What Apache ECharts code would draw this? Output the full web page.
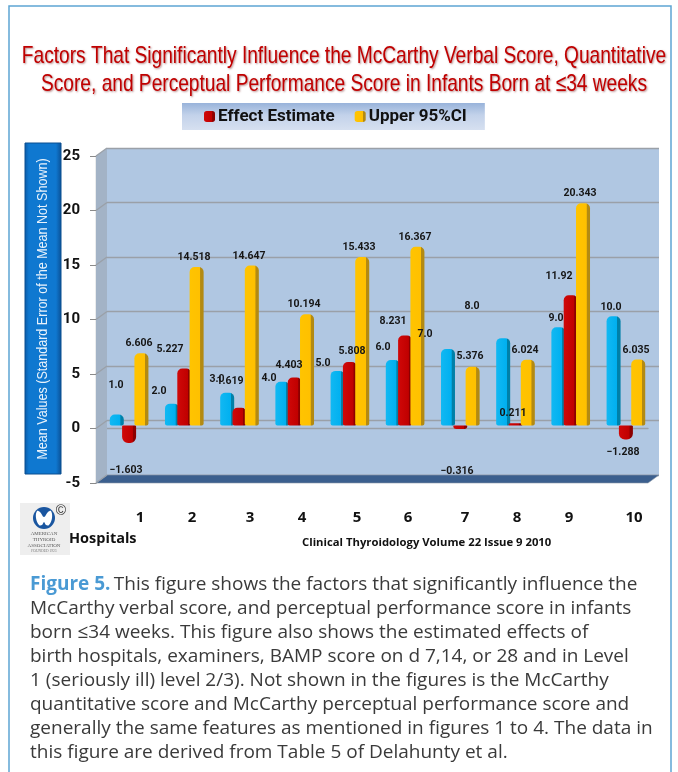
<!DOCTYPE html>
<html><head><meta charset="utf-8">
<style>html,body{margin:0;padding:0;background:#fff}#c{width:678px;height:772px}</style>
<script src="https://cdn.jsdelivr.net/npm/echarts@6/dist/echarts.min.js"></script>
</head><body><div id="c"></div>
<script>
const hospitals = ['1','2','3','4','5','6','7','8','9','10'];
const baseline = [1.0,2.0,3.0,4.0,5.0,6.0,7.0,8.0,9.0,10.0];
const effectEstimate = [-1.603,5.227,1.619,4.403,5.808,8.231,-0.316,0.211,11.92,-1.288];
const upper95 = [6.606,14.518,14.647,10.194,15.433,16.367,5.376,6.024,20.343,6.035];
const baselineLabels = ['1.0','2.0','3.0','4.0','5.0','6.0','7.0','8.0','9.0','10.0'];
const effectLabels = ['\u22121.603','5.227','1.619','4.403','5.808','8.231','\u22120.316','0.211','11.92','\u22121.288'];
const upperLabels = ['6.606','14.518','14.647','10.194','15.433','16.367','5.376','6.024','20.343','6.035'];
const yTicks = [-5,0,5,10,15,20,25];

// label anchor points in the page (the source chart places them by hand)
const baselineLabelAt = [[116,385],[159,391],[217,379],[269,378],[323,363],[383,347],[425,334],[472,306],[556,318],[611,307]];
const effectLabelAt = [[126,470],[170,349],[230,381],[289,365],[352,351],[393,321],[457,471],[513,413],[559,276],[623,452]];
const upperLabelAt = [[139,343],[194,257],[249,256],[304,304],[359,247],[415,237],[470,356],[525,350],[580,193],[636,350]];
const hospitalLabelX = [140,192,250,302,357,408,465,517,569,634];

const titleLines = [
 'Factors That Significantly Influence the McCarthy Verbal Score, Quantitative',
 'Score, and Perceptual Performance Score in Infants Born at \u226434 weeks'
];
const captionLines = [
 'McCarthy verbal score, and perceptual performance score in infants',
 'born \u226434 weeks. This figure also shows the estimated effects of',
 'birth hospitals, examiners, BAMP score on d 7,14, or 28 and in Level',
 '1 (seriously ill) level 2/3). Not shown in the figures is the McCarthy',
 'quantitative score and McCarthy perceptual performance score and',
 'generally the same features as mentioned in figures 1 to 4. The data in',
 'this figure are derived from Table 5 of Delahunty et al.'
];

const NARROW = 'Roboto,"Liberation Sans",sans-serif';
const SANS = '"Liberation Sans",sans-serif';
const cyl = (c0,c1,c2) => ({type:'linear',x:0,y:0,x2:1,y2:0,colorStops:[
  {offset:0,color:c0},{offset:0.74,color:c1},{offset:0.78,color:c2},{offset:1,color:c2}]});

function barSeries(name,data,labels,at,grad){
  return {
    type:'bar',name,xAxisIndex:2,yAxisIndex:2,barWidth:14,barGap:'-12%',
    itemStyle:{color:grad},
    data:data.map(v=>({value:v,itemStyle:{
      color:grad,
      borderRadius: v>=0 ? [5,5,2,2] : [1,1,6,6]
    }})),
    label:{show:true,position:'inside',color:'#161616',fontFamily:NARROW,fontSize:10.5,fontWeight:'bold',
      formatter:p=>labels[p.dataIndex]},
    labelLayout:p=>({x:at[p.dataIndex][0],y:at[p.dataIndex][1],align:'center',verticalAlign:'middle'})
  };
}

const gfx = [];
// frame
gfx.push({type:'polyline',z:1,shape:{points:[[9,772],[9,6],[671,6],[671,772]]},style:{stroke:'#5da5d3',fill:null,lineWidth:1.5}});
// title
titleLines.forEach((t,i)=>gfx.push({type:'text',z:5,x:344,y:56+i*28,scaleX:0.797,style:{text:t,fill:'#c00000',font:'24px '+SANS,align:'center',verticalAlign:'middle',
  textShadowColor:'rgba(90,0,0,0.45)',textShadowBlur:2,textShadowOffsetX:1,textShadowOffsetY:1}}));
// side wall and floor of the 3D box
gfx.push({type:'polygon',z:1,shape:{points:[[96,156],[107,148],[107,475],[96,483]]},style:{fill:'#a3b3c6'}});
gfx.push({type:'polygon',z:1,shape:{points:[[96,483],[107,475],[659,475],[648,483]]},style:{fill:'#3b5f8e',stroke:'#8c99a8',lineWidth:0.6}});
yTicks.forEach((t,i)=>{
  const yf = 483 - i*54.5;
  gfx.push({type:'line',z:2,shape:{x1:96,y1:yf,x2:107,y2:yf-8},style:{stroke:'#9aa0a8',lineWidth:1.2}});
});
// y-axis title box
gfx.push({type:'rect',z:3,shape:{x:25,y:143,width:36,height:331},style:{
  fill:{type:'linear',x:0,y:0,x2:1,y2:0,colorStops:[{offset:0,color:'#0a5aa6'},{offset:0.12,color:'#0f78d0'},{offset:0.85,color:'#0f78d0'},{offset:1,color:'#0a4f94'}]},stroke:'#0b4f90',lineWidth:1}});
gfx.push({type:'text',z:4,x:43,y:309,rotation:Math.PI/2,scaleX:0.81,style:{text:'Mean Values (Standard Error of the Mean Not Shown)',fill:'#e8f2fb',font:'15.5px '+SANS,align:'center',verticalAlign:'middle'}});
// category labels
hospitals.forEach((h,i)=>gfx.push({type:'text',z:5,x:hospitalLabelX[i],y:518,style:{text:h,fill:'#111',font:'bold 15px "Open Sans",sans-serif',align:'center',verticalAlign:'middle'}}));
gfx.push({type:'text',z:5,x:69,y:539,style:{text:'Hospitals',fill:'#111',font:'bold 14.5px "Open Sans",sans-serif',align:'left',verticalAlign:'middle'}});
gfx.push({type:'text',z:5,x:302,y:543,style:{text:'Clinical Thyroidology Volume 22 Issue 9 2010',fill:'#111',font:'bold 11.3px "Open Sans",sans-serif',align:'left',verticalAlign:'middle'}});
// logo
gfx.push({type:'rect',z:3,shape:{x:20,y:503,width:50,height:52},style:{fill:'#eeeeee'}});
gfx.push({type:'circle',z:4,shape:{cx:44,cy:518,r:11},style:{fill:'#1a56a0'}});
gfx.push({type:'polygon',z:5,shape:{smooth:0.4,points:[[37,511],[40,512],[44,517],[48,512],[51,511],[52,518],[49,525],[46,525],[44,522],[42,525],[39,525],[36,518]]},style:{fill:'#fff'}});
gfx.push({type:'text',z:5,x:61,y:511,style:{text:'\u00a9',fill:'#333',font:'14px '+SANS,align:'center',verticalAlign:'middle'}});
['AMERICAN','THYROID','ASSOCIATION'].forEach((t,i)=>gfx.push({type:'text',z:5,x:44,y:534+i*5.6,style:{text:t,fill:'#555',font:'5px "Liberation Serif",serif',align:'center',verticalAlign:'middle'}}));
gfx.push({type:'text',z:5,x:44,y:551.5,style:{text:'FOUNDED 1923',fill:'#777',font:'3.6px "Liberation Serif",serif',align:'center',verticalAlign:'middle'}});
// caption
const CAP = '19px "Open Sans",sans-serif';
gfx.push({type:'text',z:5,x:30,y:585,style:{
  text:'{b|Figure 5.} {n|This figure shows the factors that significantly influence the}',verticalAlign:'middle',align:'left',
  rich:{b:{font:'bold 19px "Open Sans",sans-serif',fill:'#4a9ad4'},n:{font:CAP,fill:'#3a3a3a'}}}});
captionLines.forEach((l,i)=>gfx.push({type:'text',z:5,x:30,y:609+i*24,style:{text:l,font:CAP,fill:'#3a3a3a',align:'left',verticalAlign:'middle'}}));

const hiddenCat = g => ({type:'category',gridIndex:g,data:hospitals,axisLine:{show:false},axisTick:{show:false},axisLabel:{show:false},splitLine:{show:false}});
const chart = echarts.init(document.getElementById('c'),null,{renderer:'canvas'});
chart.setOption({
  animation:false,
  backgroundColor:'#fff',
  legend:{
    data:['Effect Estimate','Upper 95%CI'],left:182,top:103,
    padding:[5,18,5,22],itemWidth:11,itemHeight:11,itemGap:20,
    backgroundColor:{type:'linear',x:0,y:0,x2:0,y2:1,colorStops:[{offset:0,color:'#98b3da'},{offset:0.45,color:'#c3d2ea'},{offset:1,color:'#d6e0f0'}]},
    textStyle:{color:'#111',fontFamily:NARROW,fontSize:17,fontWeight:'bold',padding:[0,0,0,-2]}
  },
  grid:[
    {left:107,top:148,width:552,height:327,show:true,backgroundColor:'#b0c7e2',borderWidth:0,z:0},
    {left:96,top:156,width:552,height:327,show:false,z:1},
    {left:101.5,top:152.5,width:552,height:327.6,show:false,z:3}
  ],
  xAxis:[
    hiddenCat(0),
    {type:'category',gridIndex:1,data:hospitals,axisLine:{show:true,onZero:true,lineStyle:{color:'#9aa0a8',width:1.4}},axisTick:{show:false},axisLabel:{show:false}},
    hiddenCat(2)
  ],
  yAxis:[
    {type:'value',gridIndex:0,min:-5,max:25,interval:5,axisLine:{show:false},axisTick:{show:false},axisLabel:{show:false},
     splitLine:{show:true,lineStyle:{color:'#9aa0a8',width:1.4}}},
    {type:'value',gridIndex:1,min:-5,max:25,interval:5,splitLine:{show:false},
     axisLine:{show:true,lineStyle:{color:'#9aa0a8',width:1.4}},
     axisTick:{show:true,length:6,lineStyle:{color:'#8a8a8a',width:1}},
     axisLabel:{color:'#111',fontFamily:NARROW,fontSize:15,fontWeight:'bold',margin:16,formatter:v=>String(v)}},
    {type:'value',gridIndex:2,min:-5,max:25,interval:5,show:false}
  ],
  series:[
    barSeries('Hospital',baseline,baselineLabels,baselineLabelAt,cyl('#12b8f2','#00b0f0','#0080a8')),
    barSeries('Effect Estimate',effectEstimate,effectLabels,effectLabelAt,cyl('#d00808','#c00000','#8c0000')),
    barSeries('Upper 95%CI',upper95,upperLabels,upperLabelAt,cyl('#ffc400','#ffc000','#b38a12'))
  ],
  graphic:gfx
});
</script></body></html>
